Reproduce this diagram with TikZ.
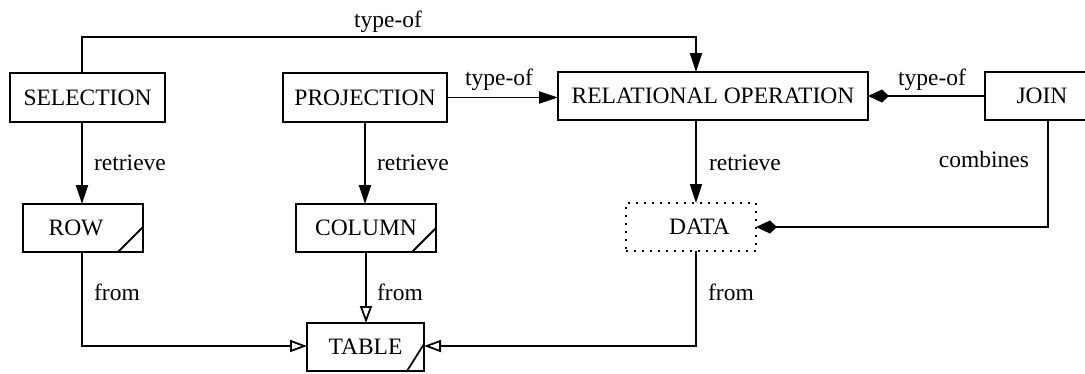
\documentclass[tikz,border=0pt]{standalone}
\usepackage{fontspec}
\setmainfont{Liberation Serif}
\usetikzlibrary{arrows.meta}
\begin{document}
\begin{tikzpicture}[x=1pt,y=1pt,line width=1.8pt,
  every node/.style={font=\fontsize{23.5}{28}\selectfont},
  entity/.style={draw,inner sep=0pt,outer sep=0pt},
  dataent/.style={draw,inner sep=0pt,outer sep=0pt,line width=1.8pt,dash pattern=on 1.8pt off 6.2pt},
  rel/.style={inner sep=0pt,anchor=base},
  fa/.style={-{Triangle[length=19pt,width=12pt]}},
  oa/.style={-{Triangle[open,length=17pt,width=12pt]}},
  ka/.style={-{Kite[length=21pt,width=13pt,inset=7pt]}},
  corner/.style={line width=1.8pt}]
\useasboundingbox (0,0) rectangle (1085,-373);

% entities
\node[entity,minimum width=155,minimum height=49] (sel)  at (87.5,-97.5) {SELECTION};
\node[entity,minimum width=164,minimum height=49] (proj) at (365,-97.5) {PROJECTION};
\node[entity,minimum width=310,minimum height=48] (rel)  at (713,-96) {RELATIONAL OPERATION};
\node[entity,minimum width=114,minimum height=48] (join) at (1042,-96) {JOIN};
\node[entity,minimum width=120,minimum height=48] (row)  at (83,-228) {ROW\phantom{\hspace{14pt}}};
\node[entity,minimum width=140,minimum height=48] (col)  at (366,-228) {COLUMN};
\node[dataent,minimum width=130,minimum height=48] (data) at (691,-227) {\phantom{D}DATA};
\node[entity,minimum width=117,minimum height=48] (table) at (365.5,-347) {TABLE};

% corner marks of the weak entities
\draw[corner] ([xshift=-25]row.south east) -- ([yshift=25]row.south east);
\draw[corner] ([xshift=-24]col.south east) -- ([yshift=24]col.south east);
\draw[corner] ([xshift=-17]table.south east) -- ([yshift=27]table.south east);

% relations
\draw[fa] ([xshift=-5.5]sel.north) -- ++(0,36) -| ([xshift=-17]rel.north);
\draw[fa] (proj.east) -- (proj.east -| rel.west);
\draw[ka] (join.west) -- (join.west -| rel.east);
\draw[fa] ([xshift=-5.5]sel.south) -- ([xshift=-5.5]sel.south |- row.north);
\draw[fa] (proj.south) -- (proj.south |- col.north);
\draw[fa] ([xshift=-17]rel.south) -- ([xshift=-17]rel.south |- data.north);
\draw[ka] ([xshift=6]join.south) |- (data.east);
\draw[oa] ([xshift=-1]row.south) |- ([yshift=1]table.west);
\draw[oa] (col.south) -- (col.south |- table.north);
\draw[oa] ([xshift=5]data.south) |- ([yshift=1]table.east);

% relation labels
\node[rel] (lt1) at (388,-27) {type-of};
\node[rel] (lt2) at (499,-85) {type-of};
\node[rel] (lt3) at (932,-85) {type-of};
\node[rel] (lr1) at (130,-170) {retrieve};
\node[rel] (lr2) at (413,-170) {retrieve};
\node[rel] (lr3) at (745,-170) {retrieve};
\node[rel] (lc)  at (984,-167) {combines};
\node[rel] (lf1) at (117,-300) {from};
\node[rel] (lf2) at (400,-300) {from};
\node[rel] (lf3) at (731,-300) {from};
\end{tikzpicture}
\end{document}
